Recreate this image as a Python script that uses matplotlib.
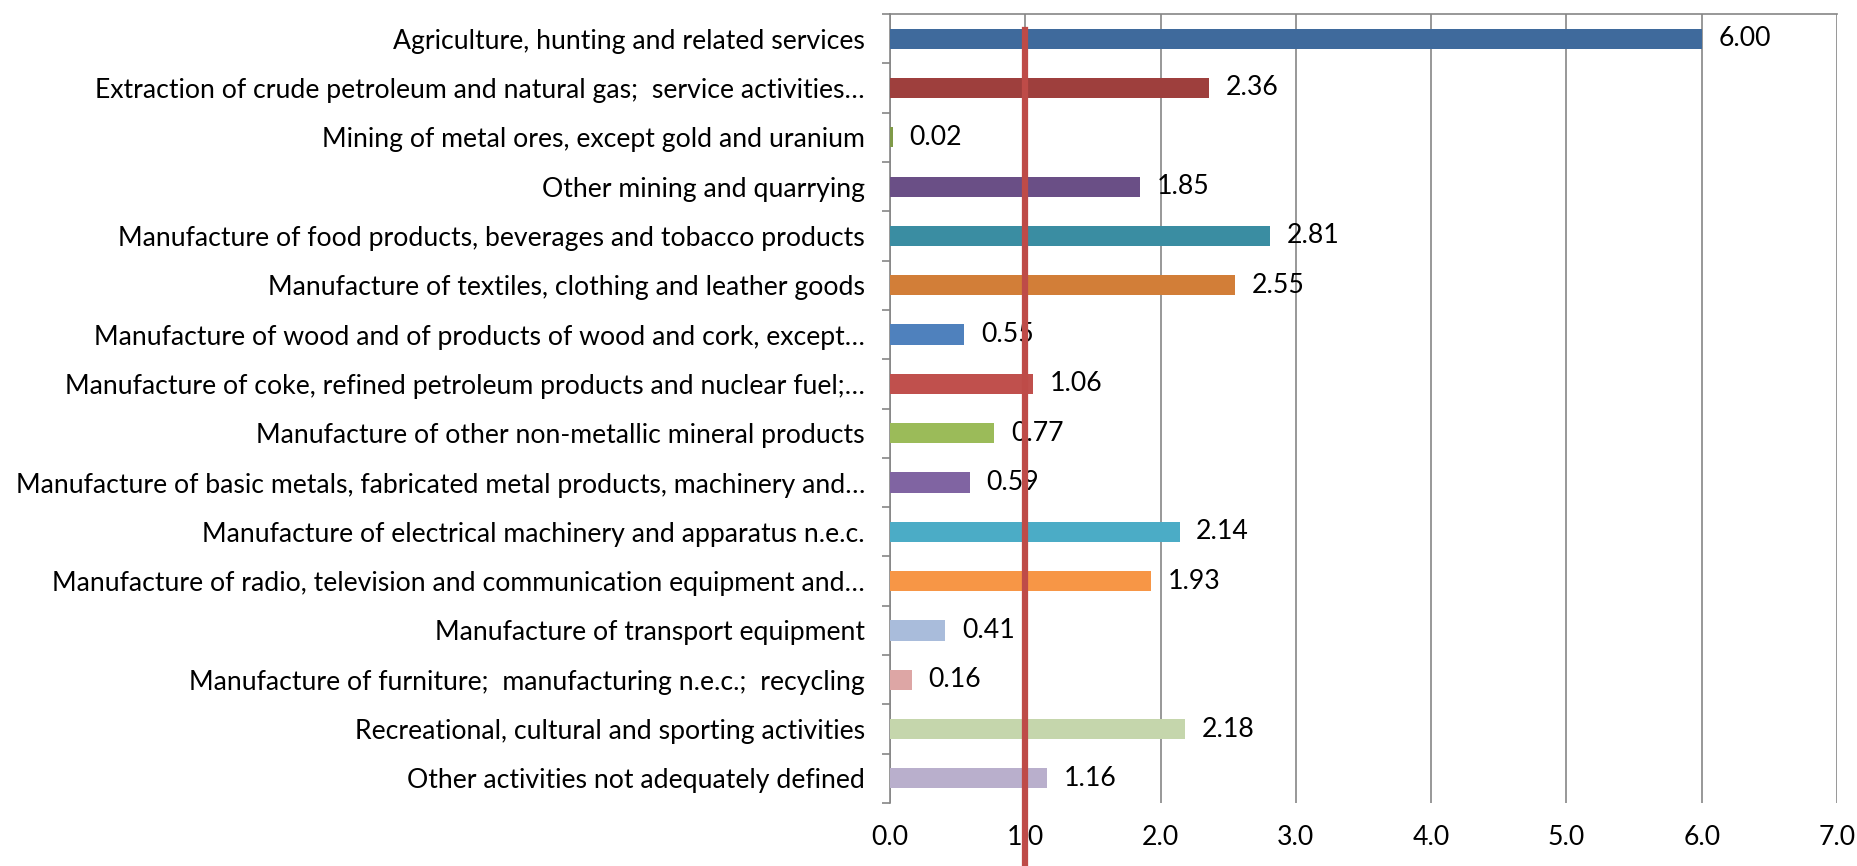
import matplotlib.pyplot as plt
import numpy as np
from matplotlib.ticker import FixedLocator

plt.rcParams["font.family"] = ["Lato", "DejaVu Sans"]

industries = [
    "Agriculture, hunting and related services",
    "Extraction of crude petroleum and natural gas;  service activities…",
    "Mining of metal ores, except gold and uranium",
    "Other mining and quarrying",
    "Manufacture of food products, beverages and tobacco products",
    "Manufacture of textiles, clothing and leather goods",
    "Manufacture of wood and of products of wood and cork, except…",
    "Manufacture of coke, refined petroleum products and nuclear fuel;…",
    "Manufacture of other non-metallic mineral products",
    "Manufacture of basic metals, fabricated metal products, machinery and…",
    "Manufacture of electrical machinery and apparatus n.e.c.",
    "Manufacture of radio, television and communication equipment and…",
    "Manufacture of transport equipment",
    "Manufacture of furniture;  manufacturing n.e.c.;  recycling",
    "Recreational, cultural and sporting activities",
    "Other activities not adequately defined",
]
values = [6.00, 2.36, 0.02, 1.85, 2.81, 2.55, 0.55, 1.06,
          0.77, 0.59, 2.14, 1.93, 0.41, 0.16, 2.18, 1.16]
bar_colors = [
    "#3F6A9C", "#9E3F3D", "#7F9A48", "#6A4F86", "#3A8DA2", "#D27E38",
    "#4F81BD", "#C0504D", "#9BBB59", "#8064A2", "#4BACC6", "#F79646",
    "#A9BCDB", "#DDA6A5", "#C5D6AC", "#B9AFCC",
]
x_ticks = [0, 1, 2, 3, 4, 5, 6, 7]
threshold = 1.0
fs = 19.2

fig = plt.figure(figsize=(18.58, 8.66), dpi=100)
ax = fig.add_axes([0.479, 0.0727, 0.5097, 0.9111])

y = np.arange(len(industries))
ax.barh(y, values, height=0.41, color=bar_colors, zorder=3)
for yi, v in zip(y, values):
    ax.annotate(f"{v:.2f}", (v, yi), xytext=(12, 0), textcoords="offset points",
                va="center", ha="left", fontsize=fs, zorder=4)

ax.set_xlim(0, 7)
ax.set_ylim(len(industries) - 0.5, -0.5)
ax.set_xticks(x_ticks)
ax.set_xticklabels([f"{t:.1f}" for t in x_ticks], fontsize=fs)
ax.tick_params(axis="x", length=0, pad=16)
ax.set_yticks(y)
ax.set_yticklabels(industries, fontsize=fs)
ax.tick_params(axis="y", which="major", length=0, pad=18)
ax.yaxis.set_minor_locator(FixedLocator(np.arange(-0.5, len(industries), 1.0)))
ax.tick_params(axis="y", which="minor", length=6, width=1.2, color="#868686")

ax.grid(axis="x", color="#868686", linewidth=1.2, zorder=0)
for side in ("right", "bottom"):
    ax.spines[side].set_visible(False)
for side in ("left", "top"):
    ax.spines[side].set_color("#868686")
    ax.spines[side].set_linewidth(1.2)

# reference level at 1.0, running past the bottom of the plot
ax.axvline(threshold, ymin=-0.1, ymax=0.98, color="#BE4B48", linewidth=4.5,
           clip_on=False, zorder=5)

fig.savefig("out.png", dpi=100)
